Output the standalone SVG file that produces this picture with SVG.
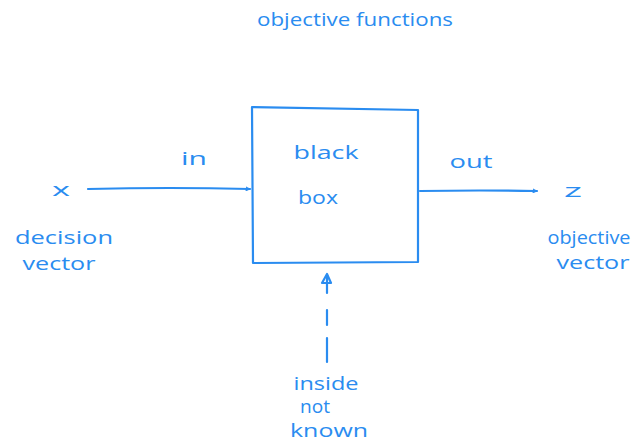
<svg xmlns="http://www.w3.org/2000/svg" width="635" height="446" viewBox="0 0 635 446">
<style>
.t{font-family:"Open Sans","Liberation Sans",sans-serif;fill:#2a8cf0;text-anchor:middle;font-size:18px}
.s{fill:none;stroke:#2a8cf0;stroke-width:2.2;stroke-linecap:round;stroke-linejoin:round}
</style>
<defs>
<marker id="ah" viewBox="0 0 10 10" refX="9" refY="5" markerWidth="5" markerHeight="5" orient="auto-start-reverse" markerUnits="userSpaceOnUse">
<path d="M1,1 L9,5 L1,9 Z" fill="#2a8cf0" stroke="#2a8cf0" stroke-width="1.5" stroke-linejoin="round"/>
</marker>
</defs>
<rect width="635" height="446" fill="#ffffff"/>
<text class="t" x="355" y="26" textLength="196" lengthAdjust="spacingAndGlyphs">objective functions</text>
<g id="blackbox">
<path class="s" d="M252,107 L418,110 L418,262 L253,263 Z"/>
<text class="t" x="326" y="159" textLength="65" lengthAdjust="spacingAndGlyphs">black</text>
<text class="t" x="318" y="204" textLength="40" lengthAdjust="spacingAndGlyphs">box</text>
</g>
<g id="input">
<text class="t" x="61" y="196" textLength="18" lengthAdjust="spacingAndGlyphs">x</text>
<text class="t" x="64" y="244" textLength="98" lengthAdjust="spacingAndGlyphs">decision</text>
<text class="t" x="59" y="270" textLength="73" lengthAdjust="spacingAndGlyphs">vector</text>
</g>
<g id="output">
<text class="t" x="573" y="197" textLength="18" lengthAdjust="spacingAndGlyphs">z</text>
<text class="t" x="589" y="244" textLength="83" lengthAdjust="spacingAndGlyphs">objective</text>
<text class="t" x="593" y="269" textLength="73" lengthAdjust="spacingAndGlyphs">vector</text>
</g>
<g id="hidden">
<text class="t" x="326" y="390" font-size="16" textLength="65" lengthAdjust="spacingAndGlyphs">inside</text>
<text class="t" x="315" y="413" font-size="16" textLength="30" lengthAdjust="spacingAndGlyphs">not</text>
<text class="t" x="329" y="437" font-size="16" textLength="78" lengthAdjust="spacingAndGlyphs">known</text>
</g>
<g id="connectors">
<path class="s" d="M88,189 Q170,187 250,189" marker-end="url(#ah)"/>
<text class="t" x="194" y="165" textLength="26" lengthAdjust="spacingAndGlyphs">in</text>
<path class="s" d="M420,191 Q480,190 537,191" marker-end="url(#ah)"/>
<text class="t" x="471" y="168" textLength="43" lengthAdjust="spacingAndGlyphs">out</text>
<path class="s" d="M327,362 L327,338 M327,325 L327,310 M327,293 L327,275"/>
<path class="s" d="M322,283 L327,274 L331,283 Z" fill="#2a8cf0"/>
</g>
</svg>
